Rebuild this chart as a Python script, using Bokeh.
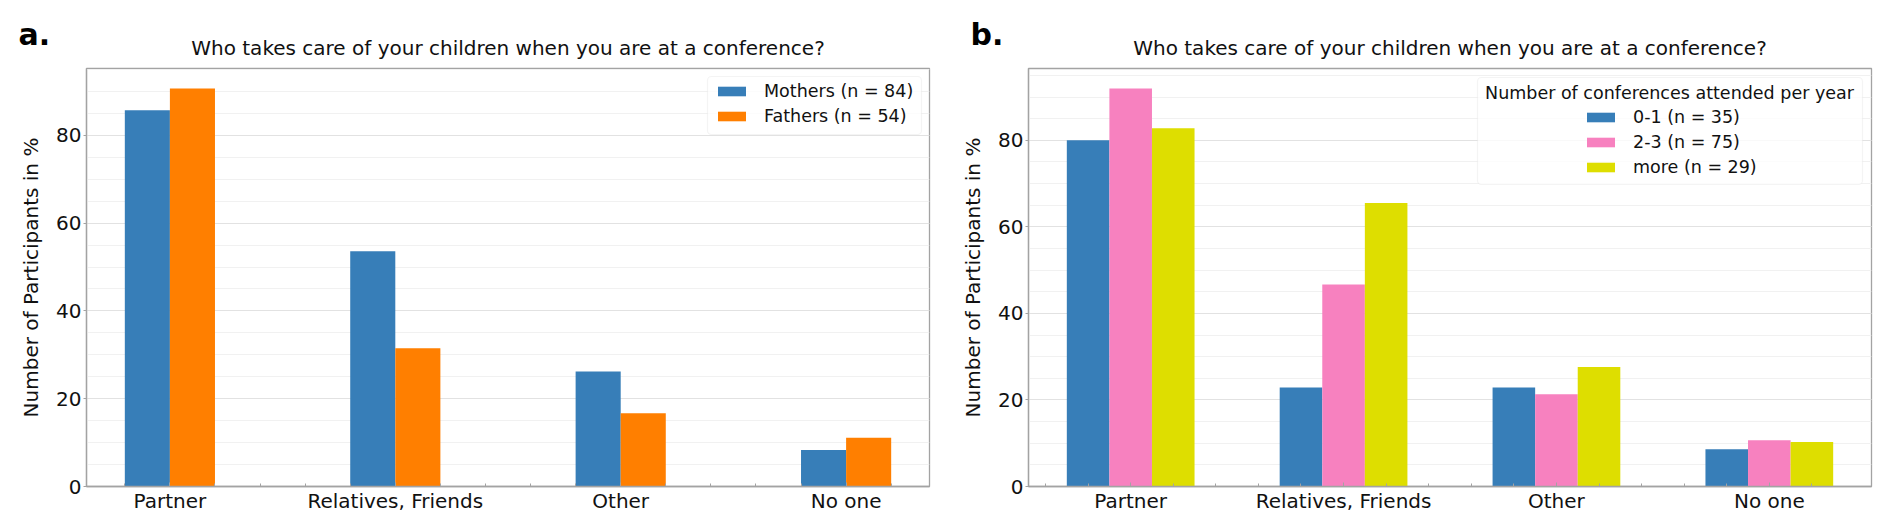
from bokeh.plotting import figure
from bokeh.layouts import row
from bokeh.models import (Range1d, FixedTicker, SingleIntervalTicker, Legend, LegendItem,
                          BoxAnnotation, Label, Title)
from bokeh.embed import file_html
from bokeh.resources import INLINE

# ---------------- data ----------------
categories = ["Partner", "Relatives, Friends", "Other", "No one"]

mothers = [85.7, 53.6, 26.2, 8.3]
fathers = [90.7, 31.5, 16.7, 11.1]
labels_a = ["Mothers (n = 84)", "Fathers (n = 54)"]

conf_0_1 = [80.0, 22.9, 22.9, 8.6]
conf_2_3 = [92.0, 46.7, 21.3, 10.7]
conf_more = [82.8, 65.5, 27.6, 10.3]
labels_b = ["0-1 (n = 35)", "2-3 (n = 75)", "more (n = 29)"]
legend_b_title = "Number of conferences attended per year"

chart_title = "Who takes care of your children when you are at a conference?"
y_label = "Number of Participants in %"

colors_a = ["#377eb8", "#ff7f00"]
colors_b = ["#377eb8", "#f781bf", "#dede00"]

FONT = "DejaVu Sans"
AXIS_COLOR = "#a3a3a3"
FRAME_W, FRAME_H = 843, 418
BAR_W = 0.2


def make_panel(series, names, colors, letter, letter_offset, x_pad, y_max, mb_left, mb_right,
               legend_box, legend_loc, legend_title=None, title_pos=None):
    n_cat = len(categories)
    n_ser = len(series)
    x0 = -BAR_W * (n_ser - 1) / 2 - BAR_W / 2 - x_pad
    x1 = (n_cat - 1) + BAR_W * (n_ser - 1) / 2 + BAR_W / 2 + x_pad
    p = figure(frame_width=FRAME_W, frame_height=FRAME_H,
               x_range=Range1d(x0, x1), y_range=Range1d(0, y_max),
               min_border_left=mb_left, min_border_right=mb_right,
               min_border_top=68, min_border_bottom=34,
               output_backend="svg", toolbar_location=None,
               background_fill_color="white", border_fill_color="white")
    p.outline_line_color = AXIS_COLOR
    p.outline_line_width = 1.3

    # panel letter: the figure's own title (outermost row)
    p.title.text = letter
    p.title.text_font = FONT
    p.title.text_font_size = "30px"
    p.title.text_font_style = "bold"
    p.title.text_color = "black"
    p.title.align = "left"
    p.title.offset = letter_offset
    p.title.standoff = -52

    # chart title: row next to the frame
    p.add_layout(Title(text=chart_title, align="center", standoff=17,
                       text_font=FONT, text_font_size="20px", text_font_style="normal",
                       text_color="#111111"), "above")

    # bars
    items = []
    for k, (vals, name, col) in enumerate(zip(series, names, colors)):
        off = (k - (n_ser - 1) / 2) * BAR_W
        xs = [i + off for i in range(n_cat)]
        r = p.vbar(x=xs, top=vals, width=BAR_W, bottom=0, fill_color=col, line_color=None)
        items.append(LegendItem(label=name, renderers=[r]))

    # x axis
    minor = [round(-0.4 + 0.2 * i, 2) for i in range(int((n_cat - 1 + 0.8) / 0.2) + 1)]
    p.xaxis.ticker = FixedTicker(ticks=list(range(n_cat)), minor_ticks=minor)
    p.xaxis.major_label_overrides = {i: c for i, c in enumerate(categories)}
    p.xaxis.major_label_text_font = FONT
    p.xaxis.major_label_text_font_size = "20px"
    p.xaxis.major_label_text_color = "#111111"
    p.xaxis.major_label_standoff = 2
    p.xaxis.major_tick_in = 4
    p.xaxis.major_tick_out = 0
    p.xaxis.minor_tick_in = 3
    p.xaxis.minor_tick_out = 0
    p.xaxis.major_tick_line_color = AXIS_COLOR
    p.xaxis.minor_tick_line_color = AXIS_COLOR
    p.xaxis.axis_line_color = AXIS_COLOR
    p.xaxis.axis_line_width = 1.3
    p.xgrid.grid_line_color = None

    # y axis
    p.yaxis.ticker = SingleIntervalTicker(interval=20, num_minor_ticks=4)
    p.yaxis.major_label_text_font = FONT
    p.yaxis.major_label_text_font_size = "20px"
    p.yaxis.major_label_text_color = "#111111"
    p.yaxis.major_label_standoff = 2
    p.yaxis.major_tick_out = 3
    p.yaxis.major_tick_in = 0
    p.yaxis.minor_tick_out = 0
    p.yaxis.minor_tick_in = 0
    p.yaxis.major_tick_line_color = AXIS_COLOR
    p.yaxis.axis_line_color = AXIS_COLOR
    p.yaxis.axis_line_width = 1.3
    p.yaxis.axis_label = y_label
    p.yaxis.axis_label_text_font = FONT
    p.yaxis.axis_label_text_font_size = "20px"
    p.yaxis.axis_label_text_font_style = "normal"
    p.yaxis.axis_label_text_color = "#111111"
    p.yaxis.axis_label_standoff = 10
    p.ygrid.grid_line_color = "#e2e2e2"
    p.ygrid.grid_line_width = 1.2
    p.ygrid.minor_grid_line_color = "#f1f1f1"
    p.ygrid.minor_grid_line_width = 1

    # legend box
    l, r_, t, b = legend_box
    box = BoxAnnotation(left=l, right=r_, top=t, bottom=b,
                        left_units="screen", right_units="screen",
                        top_units="screen", bottom_units="screen",
                        fill_color="white", fill_alpha=0.8,
                        line_color="#dcdcdc", line_width=1.2, border_radius=4)
    p.add_layout(box)

    legend = Legend(items=items, location=legend_loc,
                    background_fill_alpha=0, border_line_alpha=0,
                    glyph_width=35, glyph_height=12, label_standoff=15,
                    padding=0, margin=0, spacing=5, label_height=20,
                    label_text_font=FONT, label_text_font_size="17.5px",
                    label_text_color="#111111")
    p.add_layout(legend)

    if legend_title is not None:
        tx, ty = title_pos
        p.add_layout(Label(x=tx, y=ty, x_units="screen", y_units="screen",
                           text=legend_title, text_align="center", text_baseline="alphabetic",
                           text_font=FONT, text_font_size="17.5px", text_color="#111111"))
    return p


pa = make_panel([mothers, fathers], labels_a, colors_a, "a.", -68, x_pad=0.17, y_max=95.24,
                mb_left=86, mb_right=17,
                legend_box=(621, 835, 410, 352), legend_loc=(628, 360))

pb = make_panel([conf_0_1, conf_2_3, conf_more], labels_b, colors_b, "b.", -58, x_pad=0.18, y_max=96.6,
                mb_left=82, mb_right=13,
                legend_box=(449, 834, 409, 302), legend_loc=(555, 309),
                legend_title=legend_b_title, title_pos=(641, 394))

layout = row(pa, pb)
open("out.html", "w").write(file_html(layout, INLINE))
